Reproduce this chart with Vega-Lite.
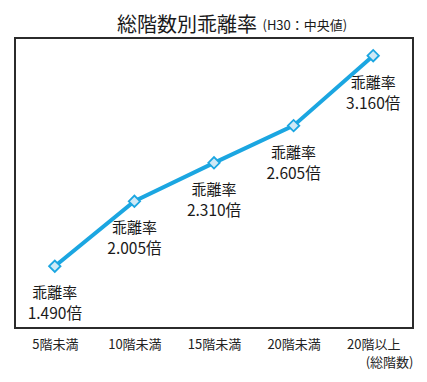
{
  "$schema": "https://vega.github.io/schema/vega-lite/v6.json",
  "width": 398,
  "height": 290,
  "autosize": {"type": "none"},
  "padding": {"left": 15, "top": 38, "right": 14, "bottom": 54},
  "background": "white",
  "config": {
    "font": "Noto Sans CJK JP",
    "view": {"stroke": "#2b2b2b", "strokeWidth": 2}
  },
  "title": {
    "text": "総階数別乖離率",
    "fontSize": 20,
    "fontWeight": "normal",
    "color": "#1a1a1a",
    "anchor": "middle",
    "frame": "group",
    "dx": -27,
    "dy": 23,
    "offset": 6
  },
  "data": {
    "values": [
      {"floor": "5階未満", "value": 1.49, "label": "1.490倍", "name": "乖離率"},
      {"floor": "10階未満", "value": 2.005, "label": "2.005倍", "name": "乖離率"},
      {"floor": "15階未満", "value": 2.31, "label": "2.310倍", "name": "乖離率"},
      {"floor": "20階未満", "value": 2.605, "label": "2.605倍", "name": "乖離率"},
      {"floor": "20階以上", "value": 3.16, "label": "3.160倍", "name": "乖離率"}
    ]
  },
  "resolve": {"axis": {"x": "independent"}},
  "layer": [
    {
      "mark": {"type": "line", "color": "#1ba6e1", "strokeWidth": 4},
      "encoding": {
        "x": {
          "field": "floor", "type": "ordinal", "sort": null,
          "scale": {"type": "point", "padding": 0.5},
          "axis": {
            "orient": "bottom", "ticks": false, "domain": false, "labelAngle": 0,
            "labelPadding": 10, "labelFontSize": 13, "labelColor": "#222",
            "title": "(総階数)", "titleAnchor": "end", "titleAlign": "right",
            "titleFontSize": 13, "titleFontWeight": "normal", "titleColor": "#222",
            "titlePadding": 5
          }
        },
        "y": {"field": "value", "type": "quantitative", "scale": {"domain": [1.0, 3.3], "zero": false, "nice": false}, "axis": null}
      }
    },
    {
      "mark": {"type": "point", "shape": "diamond", "size": 130, "filled": true, "fill": "#cfe9f6", "stroke": "#1ba6e1", "strokeWidth": 1.8, "opacity": 1},
      "encoding": {
        "x": {
          "field": "floor", "type": "ordinal", "sort": null,
          "axis": {
            "orient": "top", "labels": false, "ticks": false, "domain": false, "grid": false,
            "title": "(H30：中央値)", "titleX": 247, "titleY": -9, "titleAlign": "left",
            "titleBaseline": "alphabetic", "titleFontSize": 13, "titleFontWeight": "normal",
            "titleColor": "#1a1a1a", "titleAnchor": null
          }
        },
        "y": {"field": "value", "type": "quantitative"}
      }
    },
    {
      "mark": {"type": "text", "fontSize": 15, "dy": 27, "baseline": "middle", "align": "center", "color": "#1a1a1a"},
      "encoding": {
        "x": {"field": "floor", "type": "ordinal", "sort": null, "axis": null},
        "y": {"field": "value", "type": "quantitative"},
        "text": {"field": "name"}
      }
    },
    {
      "mark": {"type": "text", "fontSize": 15.5, "dy": 48, "baseline": "middle", "align": "center", "color": "#1a1a1a"},
      "encoding": {
        "x": {"field": "floor", "type": "ordinal", "sort": null, "axis": null},
        "y": {"field": "value", "type": "quantitative"},
        "text": {"field": "label"}
      }
    }
  ]
}
